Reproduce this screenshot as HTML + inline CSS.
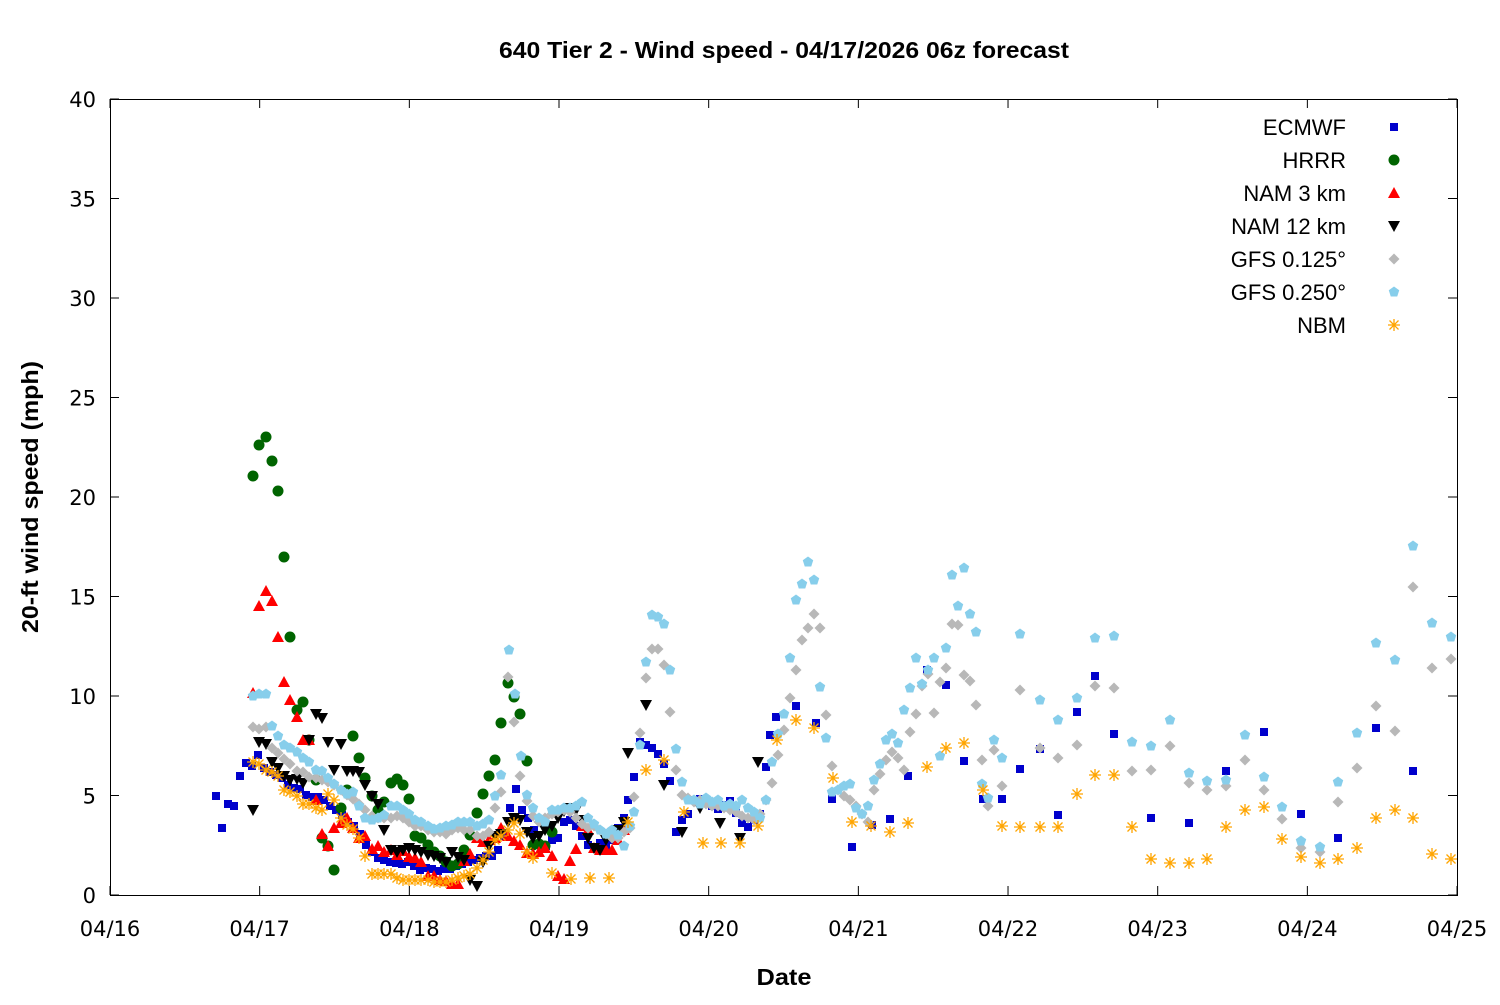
<!DOCTYPE html>
<html><head><meta charset="utf-8"><style>
html,body{margin:0;padding:0;background:#fff;}
svg text{font-family:"Liberation Sans","DejaVu Sans",sans-serif;fill:#000;}
svg text.t{font-family:"DejaVu Sans","Liberation Sans",sans-serif;}
</style></head><body>
<svg id="s" width="1500" height="1000" xmlns="http://www.w3.org/2000/svg">
<rect x="0" y="0" width="1500" height="1000" fill="#fff"/>
<text x="784" y="58" font-size="23" font-weight="bold" text-anchor="middle" textLength="570" lengthAdjust="spacingAndGlyphs">640 Tier 2 - Wind speed - 04/17/2026 06z forecast</text>
<text x="784" y="985" font-size="23" font-weight="bold" text-anchor="middle" textLength="55" lengthAdjust="spacingAndGlyphs">Date</text>
<text transform="translate(38,497) rotate(-90)" font-size="23" font-weight="bold" text-anchor="middle" textLength="272" lengthAdjust="spacingAndGlyphs">20-ft wind speed (mph)</text>
<g id="axes"></g>
<g id="pts"></g>
<rect x="110.5" y="99.5" width="1347" height="796" fill="none" stroke="#000" stroke-width="1"/>
</svg>
<script>
var NS="http://www.w3.org/2000/svg";
function el(p,t,a,txt){var e=document.createElementNS(NS,t);for(var k in a)e.setAttribute(k,a[k]);if(txt!==undefined)e.textContent=txt;p.appendChild(e);return e;}
var ax=document.getElementById('axes');
for(var i=0;i<=8;i++){var y=895-i*99.5;
 el(ax,'line',{x1:110,x2:119,y1:y,y2:y,stroke:'#000'});
 el(ax,'line',{x1:1448,x2:1457,y1:y,y2:y,stroke:'#000'});
 el(ax,'text',{'class':'t',x:96,y:y+8,'font-size':21,'text-anchor':'end'},String(i*5));}
for(var d=0;d<=9;d++){var x=110+d*149.67;
 el(ax,'line',{x1:x,x2:x,y1:895,y2:886,stroke:'#000'});
 el(ax,'line',{x1:x,x2:x,y1:99,y2:108,stroke:'#000'});
 el(ax,'text',{'class':'t',x:x,y:936,'font-size':21,'text-anchor':'middle'},'04/'+(16+d));}
function P(s){var a=s.split(/[(),]+/).filter(function(v){return v!=='';}).map(Number);var r=[];for(var i=0;i<a.length;i+=2)r.push([a[i],a[i+1]]);return r;}
var g=document.getElementById('pts');
var M={
sq:function(x,y){el(g,'rect',{x:x-4,y:y-4,width:8,height:8,fill:'#0000cc'});},
ci:function(x,y){el(g,'circle',{cx:x,cy:y,r:5.5,fill:'#006400'});},
tu:function(x,y){el(g,'polygon',{points:(x-6)+','+(y+5)+' '+(x+6)+','+(y+5)+' '+x+','+(y-6),fill:'#ff0000'});},
td:function(x,y){el(g,'polygon',{points:(x-6)+','+(y-5)+' '+(x+6)+','+(y-5)+' '+x+','+(y+6),fill:'#000'});},
di:function(x,y){el(g,'polygon',{points:x+','+(y-5.5)+' '+(x+5.5)+','+y+' '+x+','+(y+5.5)+' '+(x-5.5)+','+y,fill:'#b8b8b8'});},
hx:function(x,y){var p=[];for(var k=0;k<5;k++){var a=-Math.PI/2+k*2*Math.PI/5;p.push((x+5.5*Math.cos(a))+','+(y+5.5*Math.sin(a)));}el(g,'polygon',{points:p.join(' '),fill:'#87ceeb'});},
as:function(x,y){var d='M'+(x-6)+' '+y+'h12M'+x+' '+(y-6)+'v12M'+(x-4.5)+' '+(y-4.5)+'l9 9M'+(x-4.5)+' '+(y+4.5)+'l9 -9';el(g,'path',{d:d,stroke:'#ffa500','stroke-width':1.3,fill:'none'});}
};
var S=[
['sq',"(216,796),(222,828),(228,804),(234,806),(240,776),(246,763),(252,766),(258,755),(264,768),(270,772),(276,775),(282,778),(288,785),(294,788),(300,789),(306,795),(312,797),(318,797),(324,800),(330,806),(336,810),(342,815),(348,822),(354,826),(360,834),(366,845),(372,852),(378,858),(384,860),(390,862),(396,863),(402,864),(408,862),(414,866),(420,870),(426,868),(432,869),(438,871),(444,869),(450,869),(456,866),(462,864),(468,862),(474,860),(480,858),(486,856),(492,856),(498,850),(504,836),(510,808),(516,789),(522,810),(528,818),(534,830),(540,845),(546,846),(552,840),(558,838),(564,822),(570,820),(576,826),(582,836),(588,845),(594,848),(600,843),(606,846),(612,840),(618,828),(624,818),(628,800),(634,777),(640,742),(646,745),(652,748),(658,754),(664,764),(670,781),(676,832),(682,820),(688,814),(694,800),(700,799),(706,802),(712,806),(718,809),(724,805),(730,801),(736,813),(742,823),(748,827),(754,820),(760,814),(766,767),(770,735),(776,717),(796,706),(816,723),(832,799),(852,847),(872,825),(890,819),(908,776),(927,670),(946,685),(964,761),(983,799),(1002,799),(1020,769),(1040,749),(1058,815),(1077,712),(1095,676),(1114,734),(1151,818),(1189,823),(1226,771),(1264,732),(1301,814),(1338,838),(1376,728),(1413,771)"],
['ci',"(253,476),(259,445),(266,437),(272,461),(278,491),(284,557),(290,637),(297,710),(303,702),(309,740),(316,780),(322,838),(328,846),(334,870),(341,808),(347,790),(353,736),(359,758),(365,778),(372,796),(378,810),(384,802),(391,783),(397,779),(403,785),(409,799),(415,836),(421,838),(428,845),(434,852),(440,856),(446,862),(452,866),(458,864),(464,850),(470,835),(477,813),(483,794),(489,776),(495,760),(501,723),(508,683),(514,697),(520,714),(527,761),(533,845),(539,844),(545,846),(552,832)"],
['tu',"(253,693),(259,606),(266,591),(272,601),(278,637),(284,682),(290,700),(297,717),(303,740),(309,740),(316,800),(322,834),(328,846),(334,828),(341,823),(347,818),(353,828),(359,838),(365,836),(372,849),(378,846),(384,852),(391,850),(397,855),(403,851),(409,857),(415,858),(421,862),(428,876),(434,876),(440,880),(446,881),(452,884),(458,884),(464,861),(470,854),(477,838),(483,842),(489,840),(495,838),(501,828),(508,836),(514,841),(520,845),(527,853),(533,854),(539,852),(545,848),(552,856),(558,876),(564,879),(570,861),(576,849),(582,826),(588,830),(594,848),(600,850),(606,850),(612,850),(618,840),(624,830)"],
['td',"(253,810),(259,742),(266,744),(272,762),(278,768),(284,776),(290,780),(297,779),(303,783),(309,740),(316,714),(322,718),(328,742),(334,770),(341,744),(347,771),(353,771),(359,772),(365,785),(372,796),(378,804),(384,830),(391,850),(397,852),(403,850),(409,848),(415,850),(421,852),(428,855),(434,856),(440,858),(446,862),(452,852),(458,857),(464,860),(470,880),(477,886),(483,862),(489,846),(495,836),(501,834),(508,822),(514,818),(520,820),(527,832),(533,838),(539,836),(545,830),(552,826),(558,818),(564,811),(570,808),(576,810),(582,820),(588,838),(594,848),(600,850),(606,840),(612,838),(618,830),(624,822),(628,753),(646,705),(664,785),(682,832),(700,808),(720,823),(740,838),(758,762)"],
['di',"(253,727),(259,729),(266,727),(272,748),(278,753),(284,759),(290,764),(297,771),(303,772),(309,777),(316,778),(322,780),(328,782),(334,785),(341,790),(347,795),(353,799),(359,804),(365,810),(372,816),(378,818),(384,818),(391,818),(397,816),(403,818),(409,822),(415,826),(421,826),(428,830),(434,832),(440,832),(446,834),(452,830),(458,828),(464,830),(470,830),(477,836),(483,836),(489,832),(495,808),(501,792),(508,677),(514,722),(520,776),(527,801),(533,816),(539,822),(545,818),(552,814),(558,812),(564,810),(570,812),(576,818),(582,824),(588,828),(594,826),(600,830),(606,834),(612,838),(618,838),(624,832),(630,828),(634,797),(640,733),(646,678),(652,649),(658,649),(664,665),(670,712),(676,770),(682,795),(688,798),(694,802),(700,800),(706,804),(712,806),(718,806),(724,808),(730,810),(736,812),(742,816),(748,818),(754,820),(760,814),(766,800),(772,783),(778,755),(784,730),(790,698),(796,670),(802,640),(808,628),(814,614),(820,628),(826,715),(832,766),(838,790),(844,796),(850,800),(856,806),(862,814),(868,822),(874,790),(880,774),(886,760),(892,752),(898,758),(904,770),(910,732),(916,714),(922,686),(928,674),(934,713),(940,682),(946,668),(952,624),(958,625),(964,675),(970,681),(976,705),(982,760),(988,806),(994,750),(1002,786),(1020,690),(1040,748),(1058,758),(1077,745),(1095,686),(1114,688),(1132,771),(1151,770),(1170,746),(1189,783),(1207,790),(1226,786),(1245,760),(1264,790),(1282,819),(1301,848),(1320,852),(1338,802),(1357,768),(1376,706),(1395,731),(1413,587),(1432,668),(1451,659)"],
['hx',"(253,696),(259,694),(266,694),(272,726),(278,736),(284,745),(290,748),(297,752),(303,758),(309,762),(316,770),(322,771),(328,778),(334,784),(341,790),(347,794),(353,792),(359,806),(365,818),(372,820),(378,818),(384,815),(391,806),(397,806),(403,810),(409,814),(415,820),(421,822),(428,826),(434,829),(440,828),(446,826),(452,825),(458,822),(464,822),(470,822),(477,826),(483,824),(489,820),(495,796),(501,775),(509,650),(515,694),(521,756),(527,795),(533,808),(539,818),(545,822),(552,810),(558,810),(564,808),(570,808),(576,806),(582,802),(588,818),(594,824),(600,830),(606,834),(612,830),(618,835),(624,846),(630,826),(634,812),(640,745),(646,662),(652,615),(658,617),(664,624),(670,670),(676,749),(682,782),(688,800),(694,800),(700,804),(706,798),(712,802),(718,800),(724,806),(730,804),(736,806),(742,800),(748,808),(754,812),(760,818),(766,800),(772,762),(778,734),(784,714),(790,658),(796,600),(802,584),(808,562),(814,580),(820,687),(826,738),(832,792),(838,790),(844,786),(850,784),(856,808),(862,814),(868,806),(874,780),(880,764),(886,740),(892,734),(898,743),(904,710),(910,688),(916,658),(922,684),(928,670),(934,658),(940,756),(946,648),(952,575),(958,606),(964,568),(970,614),(976,632),(982,784),(988,798),(994,740),(1002,758),(1020,634),(1040,700),(1058,720),(1077,698),(1095,638),(1114,636),(1132,742),(1151,746),(1170,720),(1189,773),(1207,781),(1226,780),(1245,735),(1264,777),(1282,807),(1301,841),(1320,847),(1338,782),(1357,733),(1376,643),(1395,660),(1413,546),(1432,623),(1451,637)"],
['as',"(253,762),(259,764),(266,770),(272,772),(278,776),(284,790),(290,792),(297,796),(303,804),(309,804),(316,808),(322,810),(328,794),(334,800),(341,818),(347,825),(353,829),(359,838),(365,856),(372,874),(378,874),(384,874),(391,874),(397,878),(403,880),(409,880),(415,880),(421,880),(428,880),(434,882),(440,882),(446,882),(452,880),(458,878),(464,876),(470,874),(477,868),(483,860),(489,852),(495,840),(501,836),(508,830),(514,823),(520,834),(527,852),(533,858),(552,873),(571,879),(590,878),(609,878),(628,822),(646,770),(664,760),(684,812),(703,843),(721,843),(740,843),(758,826),(777,740),(796,720),(814,728),(833,778),(852,822),(871,826),(890,832),(908,823),(927,767),(946,748),(964,743),(983,790),(1002,826),(1020,827),(1040,827),(1058,827),(1077,794),(1095,775),(1114,775),(1132,827),(1151,859),(1170,863),(1189,863),(1207,859),(1226,827),(1245,810),(1264,807),(1282,839),(1301,857),(1320,863),(1338,859),(1357,848),(1376,818),(1395,810),(1413,818),(1432,854),(1451,859)"]
];
S.forEach(function(s){P(s[1]).forEach(function(p){M[s[0]](p[0],p[1]);});});
var L=[['ECMWF','sq'],['HRRR','ci'],['NAM 3 km','tu'],['NAM 12 km','td'],['GFS 0.125°','di'],['GFS 0.250°','hx'],['NBM','as']];
L.forEach(function(l,i){var y=127+i*33;el(g,'text',{x:1346,y:y+8,'font-size':22,'text-anchor':'end'},l[0]);M[l[1]](1394,y);});
</script>
</body></html>
